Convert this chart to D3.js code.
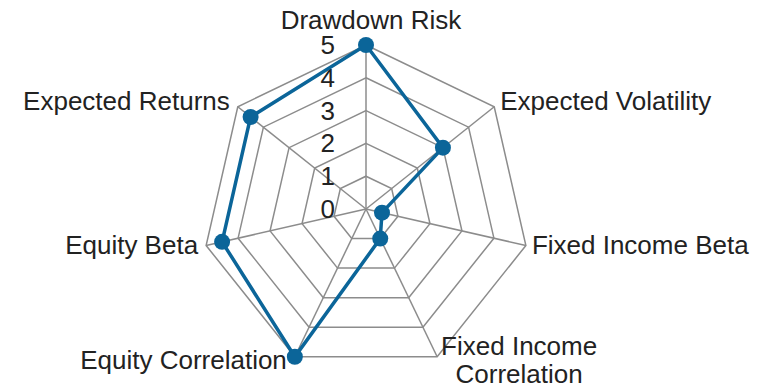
<!DOCTYPE html>
<html>
<head>
<meta charset="utf-8">
<script src="https://cdn.jsdelivr.net/npm/d3@7"></script>
<style>
  body { margin: 0; background: #fff; }
  text { font-family: "Liberation Sans", Arial, sans-serif; fill: #222; }
</style>
</head>
<body>
<div id="chart"></div>
<script>
var categories = ['Drawdown Risk', 'Expected Volatility', 'Fixed Income Beta',
  'Fixed Income Correlation', 'Equity Correlation', 'Equity Beta', 'Expected Returns'];
var values = [5, 3, 0.5, 1, 5, 4.5, 4.5];
var ticks = [0, 1, 2, 3, 4, 5];

var width = 773, height = 388;
var cx = 366, cy = 209, radius = 164;
var lineColor = '#0b6599';

var svg = d3.select('#chart').append('svg')
  .attr('width', width)
  .attr('height', height);

var r = d3.scaleLinear().domain([0, 5]).range([0, radius]);
var angle = d3.scaleLinear().domain([0, categories.length]).range([0, 2 * Math.PI]);

function pt(i, v) {
  var a = angle(i);
  return [cx + r(v) * Math.sin(a), cy - r(v) * Math.cos(a)];
}

var g = svg.append('g');

// grid rings
g.selectAll('.ring')
  .data(ticks.filter(function(t) { return t > 0; }))
  .enter().append('polygon')
  .attr('points', function(t) {
    return categories.map(function(c, i) { return pt(i, t).join(','); }).join(' ');
  })
  .attr('fill', 'none')
  .attr('stroke', '#8c8c8c')
  .attr('stroke-width', 1.5);

// spokes
g.selectAll('.spoke')
  .data(categories)
  .enter().append('line')
  .attr('x1', cx).attr('y1', cy)
  .attr('x2', function(c, i) { return pt(i, 5)[0]; })
  .attr('y2', function(c, i) { return pt(i, 5)[1]; })
  .attr('stroke', '#8c8c8c')
  .attr('stroke-width', 1.5);

// tick labels
g.selectAll('.tick')
  .data(ticks)
  .enter().append('text')
  .attr('x', cx - 31)
  .attr('y', function(t) { return cy - r(t) + 9; })
  .attr('text-anchor', 'end')
  .style('font-size', '26px')
  .text(function(t) { return t; });

// series
var line = d3.line().curve(d3.curveLinearClosed);
g.append('path')
  .attr('d', line(values.map(function(v, i) { return pt(i, v); })))
  .attr('fill', 'none')
  .attr('stroke', lineColor)
  .attr('stroke-width', 3.5);

g.selectAll('.dot')
  .data(values)
  .enter().append('circle')
  .attr('cx', function(v, i) { return pt(i, v)[0]; })
  .attr('cy', function(v, i) { return pt(i, v)[1]; })
  .attr('r', 8)
  .attr('fill', lineColor);

// category labels
categories.forEach(function(c, i) {
  var p = pt(i, 5);
  var a = angle(i);
  var s = Math.sin(a);
  var t = g.append('text').style('font-size', '26px');
  if (c === 'Fixed Income Correlation') {
    t.attr('text-anchor', 'middle');
    t.append('tspan').attr('x', p[0] + 82).attr('y', p[1] - 2).text('Fixed Income');
    t.append('tspan').attr('x', p[0] + 82).attr('y', p[1] + 26).text('Correlation');
    return;
  }
  var x, anchor;
  if (Math.abs(s) < 0.01) { x = p[0] + 5; anchor = 'middle'; }
  else if (s > 0) { x = p[0] + 6; anchor = 'start'; }
  else { x = p[0] - 8; anchor = 'end'; }
  var y = p[1] + 7 - 6 * Math.cos(a);
  if (Math.abs(s) < 0.01) y = p[1] - 16;
  t.attr('x', x).attr('y', y).attr('text-anchor', anchor).text(c);
});
</script>
</body>
</html>
